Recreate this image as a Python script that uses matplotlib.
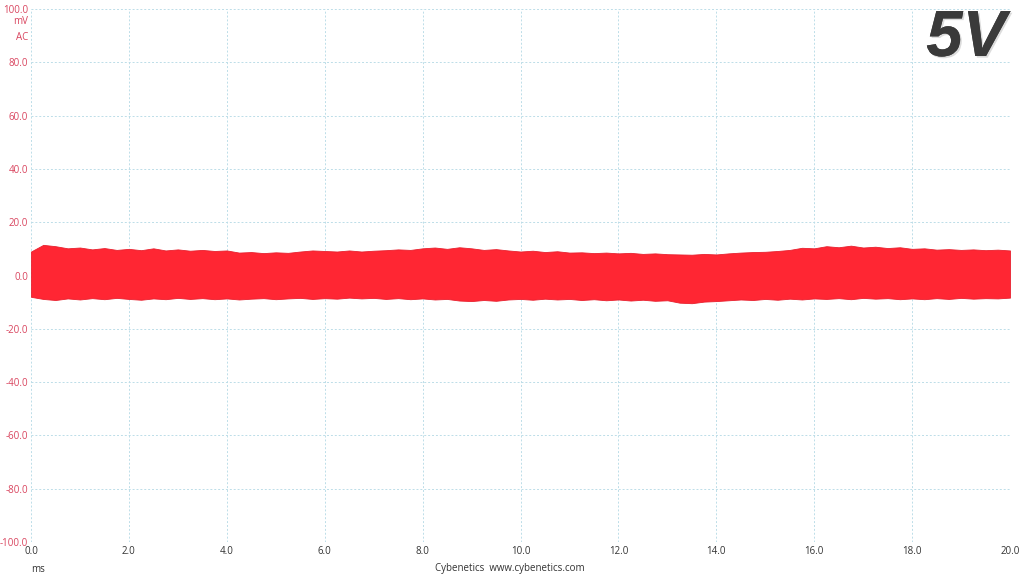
import matplotlib
matplotlib.use("Agg")
import matplotlib.pyplot as plt
import matplotlib.patheffects as pe

# time axis (ms) for envelope samples
time_ms = [i * 0.25 for i in range(81)]
upper_mv = [9.0, 11.5, 11.0, 10.2, 10.5, 9.8, 10.3, 9.6, 10.0, 9.5,
            10.2, 9.4, 9.8, 9.3, 9.6, 9.2, 9.4, 8.6, 8.8, 8.4,
            8.7, 8.5, 9.0, 9.4, 9.2, 9.0, 9.4, 9.0, 9.3, 9.5,
            9.8, 9.6, 10.2, 10.5, 10.0, 10.6, 10.2, 9.6, 9.9, 9.4,
            9.0, 9.3, 8.8, 9.1, 8.6, 8.7, 8.4, 8.6, 8.3, 8.5,
            8.1, 8.3, 8.0, 7.9, 7.8, 8.1, 7.9, 8.3, 8.6, 8.8,
            8.9, 9.2, 9.6, 10.4, 10.2, 11.0, 10.6, 11.2, 10.5, 10.8,
            10.3, 10.6, 10.0, 10.2, 9.7, 9.9, 9.6, 9.8, 9.5, 9.7, 9.4]
lower_mv = [-8.0, -8.8, -9.2, -8.6, -9.0, -8.5, -8.9, -8.4, -8.8, -9.1,
            -8.6, -8.9, -8.4, -8.8, -8.5, -8.9, -8.6, -9.0, -8.7, -8.5,
            -8.9, -8.6, -8.4, -8.8, -8.5, -8.7, -8.3, -8.6, -8.4, -8.8,
            -8.5, -8.9, -8.6, -9.0, -8.8, -9.4, -9.6, -9.2, -9.5, -9.0,
            -8.8, -9.1, -8.7, -9.0, -8.8, -9.2, -8.9, -9.3, -9.0, -9.4,
            -9.1, -9.5, -9.3, -10.2, -10.4, -9.8, -9.6, -9.3, -9.0, -9.2,
            -8.8, -9.1, -8.7, -9.0, -8.6, -8.8, -8.5, -8.9, -8.4, -8.7,
            -8.5, -8.9, -8.6, -8.9, -8.5, -8.8, -8.4, -8.7, -8.5, -8.6, -8.3]

x_ticks = [0, 2, 4, 6, 8, 10, 12, 14, 16, 18, 20]
y_ticks = [-100, -80, -60, -40, -20, 0, 20, 40, 60, 80, 100]

RED = "#FF2633"
TICK_RED = "#D9455F"
GRID = "#BCDDE8"
TXT = "#333333"

fig = plt.figure(figsize=(10.24, 5.76), dpi=100)
ax = fig.add_axes([31 / 1024, (576 - 542) / 576, (1010 - 31) / 1024, (542 - 9) / 576])

ax.fill_between(time_ms, lower_mv, upper_mv, color=RED, linewidth=0.6,
                edgecolor="#E8202E", zorder=3)

ax.set_xlim(0, 20)
ax.set_ylim(-100, 100)
ax.set_xticks(x_ticks)
ax.set_yticks(y_ticks)
ax.set_xticklabels([f"{v:.1f}" for v in x_ticks], fontsize=7, color=TXT, family="Open Sans")
ax.set_yticklabels([f"{v:.1f}" for v in y_ticks], fontsize=7, color=TICK_RED, family="Open Sans")
ax.tick_params(length=0, pad=2)
ax.tick_params(axis="x", pad=3)
for s in ax.spines.values():
    s.set_visible(False)
ax.grid(True, color=GRID, linestyle=(0, (2, 2)), linewidth=0.7, zorder=0)
ax.set_axisbelow(True)

fig.text(28 / 1024, 1 - 22 / 576, "mV", ha="right", va="center", fontsize=7,
         color=TICK_RED, family="Open Sans")
fig.text(28 / 1024, 1 - 37 / 576, "AC", ha="right", va="center", fontsize=7,
         color=TICK_RED, family="Open Sans")
fig.text(38 / 1024, 1 - 569 / 576, "ms", ha="center", va="center", fontsize=7,
         color=TXT, family="Open Sans")
fig.text(510 / 1024, 1 - 569 / 576, "Cybenetics  www.cybenetics.com", ha="center",
         va="center", fontsize=7, color=TXT, family="Open Sans")

fig.text(1006 / 1024, 1 - 39 / 576, "5V", ha="right", va="center", fontsize=47,
         fontweight="bold", fontstyle="italic", color="#3A3A3A", family="Liberation Sans",
         path_effects=[pe.withSimplePatchShadow(offset=(1.2, -1.2), shadow_rgbFace="#BBBBBB", alpha=0.5),
                       pe.Normal()])

fig.savefig("out.png", dpi=100)
